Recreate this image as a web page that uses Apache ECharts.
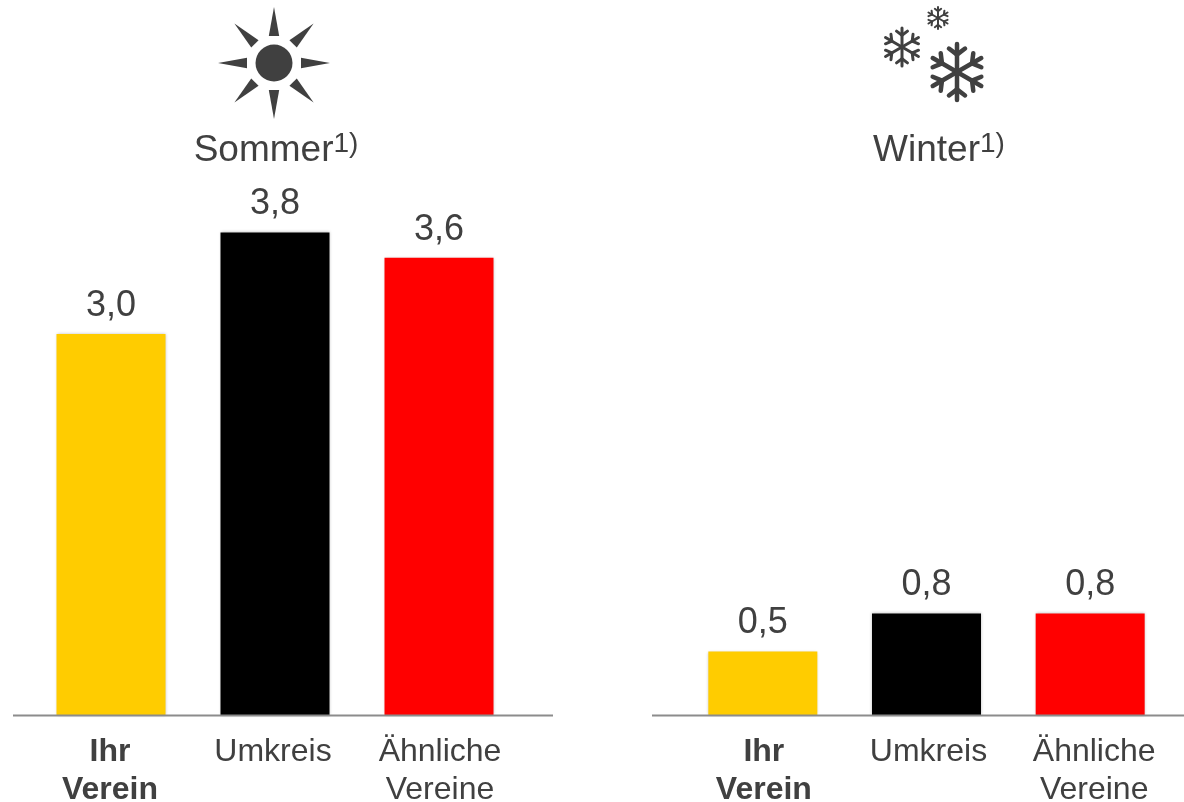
<!DOCTYPE html>
<html>
<head>
<meta charset="utf-8">
<title>Sommer und Winter</title>
<script src="https://cdn.jsdelivr.net/npm/echarts@6/dist/echarts.min.js"></script>
<style>
  html, body { margin: 0; padding: 0; background: #fff; }
  #main { width: 1184px; height: 802px; }
</style>
</head>
<body>
<div id="main"></div>
<script>
const categories = ['Ihr\nVerein', 'Umkreis', 'Ähnliche\nVereine']
const sommerValues = [3.0, 3.8, 3.6]
const winterValues = [0.5, 0.8, 0.8]
const barColors = ['#ffcc00', '#000000', '#ff0000']

const textColor = '#404040'
const fontFamily = 'Liberation Sans'
const axisColor = '#8c8c8c'

const chart = echarts.init(document.getElementById('main'))

function catLabel(prefix) {
  return function (value, index) {
    const style = prefix + index
    return value.split('\n').map(line => '{' + style + '|' + line + '}').join('\n')
  }
}

// rich styles per label, padding nudges the text off the bar centre like the original
function catRich(prefix, pads) {
  const rich = {}
  pads.forEach((pad, i) => {
    rich[prefix + i] = {
      fontFamily,
      fontSize: 32,
      lineHeight: 38,
      color: textColor,
      fontWeight: i === 0 ? 'bold' : 'normal',
      padding: pad
    }
  })
  return rich
}

function titleOpt(text, x) {
  return {
    text: '{t|' + text + '}{s|1)}',
    left: x,
    top: 121,
    textAlign: 'center',
    textStyle: {
      rich: {
        t: { fontFamily, fontSize: 37, fontWeight: 'normal', color: textColor, lineHeight: 50, verticalAlign: 'middle' },
        s: { fontFamily, fontSize: 28, fontWeight: 'normal', color: textColor, lineHeight: 50, verticalAlign: 'middle', padding: [0, 0, 14, 0] }
      }
    }
  }
}

function barSeries(values, axisIndex) {
  return {
    type: 'bar',
    xAxisIndex: axisIndex,
    yAxisIndex: axisIndex,
    barWidth: 109,
    data: values.map((v, i) => ({
      value: v,
      itemStyle: {
        color: barColors[i],
        shadowBlur: 3,
        shadowColor: 'rgba(0,0,0,0.25)'
      }
    })),
    label: {
      show: true,
      position: 'top',
      distance: 10,
      fontFamily,
      fontSize: 36,
      color: textColor,
      formatter: p => p.value.toFixed(1).replace('.', ',')
    }
  }
}

function xAxisOpt(grid, prefix, pads) {
  return {
    type: 'category',
    gridIndex: grid,
    data: categories,
    axisLine: { show: false },
    axisTick: { show: false },
    axisLabel: {
      margin: 18,
      interval: 0,
      verticalAlign: 'top',
      formatter: catLabel(prefix),
      rich: catRich(prefix, pads)
    }
  }
}

function yAxisOpt(grid) {
  return { type: 'value', gridIndex: grid, min: 0, max: 5, show: false }
}

// baseline runs wider than the grid, so it is a plain line
function baseline(x1, x2) {
  return {
    type: 'line',
    silent: true,
    z: 5,
    shape: { x1, y1: 715.5, x2, y2: 715.5 },
    style: { stroke: axisColor, lineWidth: 2 }
  }
}

function sunIcon(cx, cy) {
  const parts = [{
    type: 'circle',
    shape: { cx, cy, r: 18.5 },
    style: { fill: textColor }
  }]
  for (let i = 0; i < 8; i++) {
    const a = i * Math.PI / 4
    const cos = Math.cos(a)
    const sin = Math.sin(a)
    parts.push({
      type: 'polygon',
      shape: {
        points: [
          [cx + 56 * cos, cy + 56 * sin],
          [cx + 27 * cos - 5.2 * sin, cy + 27 * sin + 5.2 * cos],
          [cx + 27 * cos + 5.2 * sin, cy + 27 * sin - 5.2 * cos]
        ]
      },
      style: { fill: textColor }
    })
  }
  return parts
}

function snowIcon(cx, cy, r, width) {
  const parts = []
  const seg = (x1, y1, x2, y2) => ({
    type: 'line',
    shape: { x1, y1, x2, y2 },
    style: { stroke: textColor, lineWidth: width, lineCap: 'round' }
  })
  for (let i = 0; i < 6; i++) {
    const a = i * Math.PI / 3 + Math.PI / 2
    const dx = Math.cos(a)
    const dy = Math.sin(a)
    parts.push(seg(cx, cy, cx + r * dx, cy + r * dy))
    const bx = cx + 0.62 * r * dx
    const by = cy + 0.62 * r * dy
    ;[-1, 1].forEach(side => {
      const b = a + side * Math.PI / 3.4
      parts.push(seg(bx, by, bx + 0.36 * r * Math.cos(b), by + 0.36 * r * Math.sin(b)))
    })
  }
  return parts
}

chart.setOption({
  animation: false,
  backgroundColor: '#ffffff',
  title: [titleOpt('Sommer', 271), titleOpt('Winter', 934)],
  grid: [
    { left: 29, width: 492, top: 80, height: 635, outerBoundsMode: 'none' },
    { left: 681, width: 491, top: 80, height: 635, outerBoundsMode: 'none' }
  ],
  xAxis: [
    xAxisOpt(0, 'a', [[0, 2, 0, 0], [0, 4, 0, 0], [0, 0, 0, 2]]),
    xAxisOpt(1, 'b', [[0, 0, 0, 2], [0, 0, 0, 4], [0, 0, 0, 8]])
  ],
  yAxis: [yAxisOpt(0), yAxisOpt(1)],
  series: [barSeries(sommerValues, 0), barSeries(winterValues, 1)],
  graphic: [
    baseline(13, 553),
    baseline(652, 1184),
    ...sunIcon(274, 63),
    ...snowIcon(957, 72, 28, 4.5),
    ...snowIcon(902, 47, 19, 3),
    ...snowIcon(938, 18, 11, 2)
  ]
})

window.addEventListener('resize', () => {
  chart.resize()
})
</script>
</body>
</html>
